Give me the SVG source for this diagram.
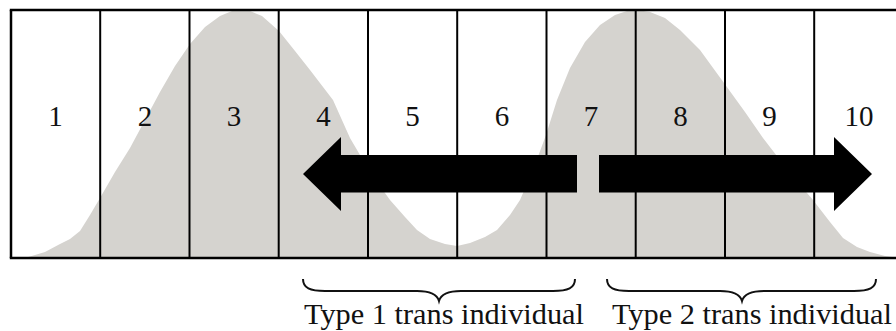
<svg xmlns="http://www.w3.org/2000/svg" width="896" height="331" viewBox="0 0 896 331">
<style>
.grid{stroke:#000;stroke-width:2;fill:none}
.num{font-family:"Liberation Serif","Times New Roman",serif;font-size:29px;fill:#111;text-anchor:middle}
.cap{font-family:"Liberation Serif","Times New Roman",serif;font-size:30px;fill:#111}
.brace{stroke:#111;stroke-width:2;fill:none}
.arrow{fill:#000}
</style>
<rect width="896" height="331" fill="#fff"/>
<g id="distribution">
<path fill="#d5d3cf" d="M24,258 L30,256.5 L45,252 L60,244 L70,239 L80,231 L90,215 L100,198 L115,172 L130,148 L145,120 L160,92 L175,66 L190,44 L205,27 L220,16 L232,11 L240,10 L250,11 L262,16 L279,31 L295,51 L310,70 L333,100 L350,138 L370,172 L390,200 L405,217 L417,230 L430,239 L445,244 L457,246 L470,243 L485,237 L497,230 L510,215 L520,200 L533,170 L546,135 L557,100 L570,68 L585,42 L600,25 L615,15 L627,11 L637,10 L650,12 L665,18 L680,30 L700,50 L724,83 L745,112 L763,138 L790,173 L813,200 L830,222 L843,238 L857,247 L870,252 L885,256 L896,257.5 L896,258 Z"/>
</g>
<g id="grid" class="grid">
<line x1="9.8" y1="10" x2="896" y2="10" stroke-width="2.5"/>
<line x1="9.8" y1="258" x2="896" y2="258" stroke-width="2.5"/>
<line x1="11" y1="10" x2="11" y2="258" stroke-width="2.5"/>
<line x1="100.2" y1="10" x2="100.2" y2="258"/>
<line x1="189.5" y1="10" x2="189.5" y2="258"/>
<line x1="278.7" y1="10" x2="278.7" y2="258"/>
<line x1="368" y1="10" x2="368" y2="258"/>
<line x1="457.2" y1="10" x2="457.2" y2="258"/>
<line x1="546.5" y1="10" x2="546.5" y2="258"/>
<line x1="635.7" y1="10" x2="635.7" y2="258"/>
<line x1="725" y1="10" x2="725" y2="258"/>
<line x1="814.2" y1="10" x2="814.2" y2="258"/>
</g>
<g id="labels">
<g id="col1"><text class="num" x="55.6" y="126">1</text></g>
<g id="col2"><text class="num" x="144.9" y="126">2</text></g>
<g id="col3"><text class="num" x="234.1" y="126">3</text></g>
<g id="col4"><text class="num" x="323.4" y="126">4</text></g>
<g id="col5"><text class="num" x="412.6" y="126">5</text></g>
<g id="col6"><text class="num" x="501.9" y="126">6</text></g>
<g id="col7"><text class="num" x="591.1" y="126">7</text></g>
<g id="col8"><text class="num" x="680.4" y="126">8</text></g>
<g id="col9"><text class="num" x="769.6" y="126">9</text></g>
<g id="col10"><text class="num" x="858.9" y="126">10</text></g>
</g>
<g id="connectors">
<path class="arrow" d="M577,155 L341,155 L341,137 L303,174 L341,211 L341,192.5 L577,192.5 Z"/>
<path class="arrow" d="M599,155 L834,155 L834,137 L872,174 L834,211 L834,192.5 L599,192.5 Z"/>
</g>
<g id="type1">
<path class="brace" d="M303,279 C303,288 310,291 325,291 L417,291 C430,291 437,294 439,301 C441,294 448,291 461,291 L553,291 C568,291 575,288 575,279"/>
<text class="cap" x="304" y="324" textLength="280" lengthAdjust="spacingAndGlyphs">Type 1 trans individual</text>
</g>
<g id="type2">
<path class="brace" d="M607,279 C607,288 614,291 629,291 L720,291 C733,291 740,294 742,301 C744,294 751,291 764,291 L854,291 C869,291 876,288 876,279"/>
<text class="cap" x="612" y="324" textLength="280" lengthAdjust="spacingAndGlyphs">Type 2 trans individual</text>
</g>
</svg>
